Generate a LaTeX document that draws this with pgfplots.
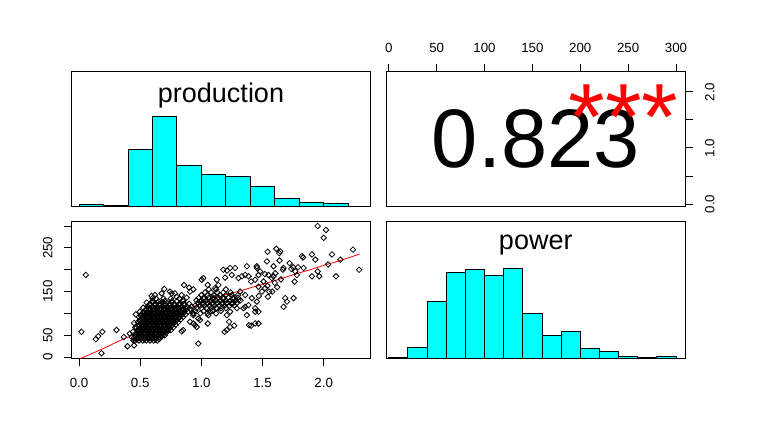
\documentclass[border=0pt]{standalone}
\usepackage{fontspec}
\setmainfont{Liberation Sans}
\usepackage{pgfplots}
\pgfplotsset{compat=1.18}
\definecolor{rcyan}{RGB}{0,255,255}
\definecolor{rred}{RGB}{255,0,0}

\pgfplotsset{
  panel/.style={
    scale only axis, width=299bp, height=135bp,
    axis line style={line width=0.9bp},
    every tick/.style={black, line width=0.9bp},
    tick align=outside, major tick length=7.5bp,
    ticklabel style={font=\fontsize{13.3bp}{15bp}\selectfont, inner sep=0pt},
  },
  nolab/.style={xtick=\empty, ytick=\empty},
}

\begin{document}
\begin{tikzpicture}
\useasboundingbox (0,0) rectangle (757bp,430bp);

% production histogram (top left)
\begin{axis}[panel, nolab, at={(71.5bp,223.3bp)}, anchor=south west,
    xmin=-0.062, xmax=2.383, ymin=0, ymax=2.306]
\addplot[ybar interval, fill=rcyan, draw=black, line width=0.9bp] coordinates {
  (0,0.040)(0.2,0.023)(0.4,0.980)(0.6,1.543)(0.8,0.706)(1.0,0.552)
  (1.2,0.518)(1.4,0.347)(1.6,0.148)(1.8,0.074)(2.0,0.057)(2.2,0.011)(2.4,0)};
\node[font=\fontsize{27bp}{30bp}\selectfont] at (rel axis cs:0.5,0.821) {production};
\end{axis}

% correlation (top right)
\begin{axis}[panel, at={(386.5bp,223.3bp)}, anchor=south west, width=298.5bp,
    xmin=-2.4, xmax=309.4, ymin=-0.048, ymax=2.36,
    xtick={0,50,100,150,200,250,300}, xticklabels={0,50,100,150,200,250,300},
    xtick pos=right, xticklabel pos=right, xticklabel shift=11.7bp,
    xticklabel style={anchor=south},
    ytick={0,0.5,1,1.5,2}, yticklabels={0.0,,1.0,,2.0},
    ytick pos=right, yticklabel pos=right, yticklabel shift=12.5bp,
    yticklabel style={rotate=90, anchor=north}]
\node[font=\fontsize{83bp}{90bp}\selectfont] at (rel axis cs:0.5,0.5) {0.823};
\node[font=\fontsize{94bp}{100bp}\selectfont, text=rred, anchor=north, inner sep=0pt]
  at (rel axis cs:0.794,0.901) {***};
\end{axis}

% scatter (bottom left)
\begin{axis}[panel, at={(71.5bp,71.8bp)}, anchor=south west, height=136.3bp,
    xmin=-0.062, xmax=2.383, ymin=-2.4, ymax=309.4,
    xtick={0,0.5,1,1.5,2}, xticklabels={0.0,0.5,1.0,1.5,2.0},
    xtick pos=left, xticklabel shift=12bp,
    ytick={0,50,100,150,200,250,300}, yticklabels={0,50,,150,,250,},
    ytick pos=left, yticklabel shift=11.2bp,
    yticklabel style={rotate=90, anchor=south}]
\addplot[only marks, mark=square, mark size=1.95bp,
    mark options={rotate=45, line width=0.8bp, draw=black, fill=none}] coordinates {
  % sparse points
  (0.019,58)(0.055,188)(0.137,41)(0.156,48)(0.19,58)(0.183,9)(0.306,62)(0.366,46)
  (0.396,25)(0.45,27)(0.975,31)(0.839,59)(0.697,156)(0.858,165)(1.052,77)(1.208,62)
  (1.227,81)(1.268,72)(1.372,96)(1.407,72)(1.44,104)(1.467,77)(1.372,208)(1.453,208)
  (1.541,241)(1.612,248)(1.645,242)(1.639,221)(1.59,208)(1.604,192)(1.667,200)
  (1.672,115)(1.686,135)(1.7,127)(1.754,135)(1.762,173)(1.721,215)(1.735,202)
  (1.781,188)(1.79,206)(1.831,228)(1.904,235)(1.932,223)(1.904,185)(1.951,196)
  (1.964,185)(1.951,300)(2.019,291)(2.0,273)(2.068,235)(2.036,212)(2.101,185)
  (2.137,223)(2.24,246)(2.29,200)
  (0.936,100)(0.936,77)(0.962,69)(0.989,85)(0.85,62)(1.003,177)(1.016,181)(0.934,155)
  (0.784,146)(0.743,150)
  (1.18,200)(1.21,198)(1.235,204)(1.276,204)(1.249,188)(1.194,182)(1.139,165)
  (1.126,177)(1.112,158)(1.052,165)
  (1.303,181)(1.331,185)(1.358,188)(1.385,185)(1.407,173)(1.44,177)(1.467,188)(1.467,161)
  (1.317,150)(1.358,142)(1.413,135)(1.454,127)(1.44,112)(1.467,104)(1.303,131)
  (1.385,119)(1.344,112)
  (1.057,96)(1.235,69)(1.19,58)(1.44,77)(1.39,73)
  (1.637,238)(1.536,219)(1.672,204)(1.75,206)(1.768,196)(1.823,231)(1.836,204)
  (1.454,204)(1.48,196)(1.549,188)(1.59,185)(1.52,190)(1.577,181)(1.508,173)
  (1.522,158)(1.54,163)(1.555,150)(1.495,150)(1.544,138)(1.47,140)(1.6,170)
  (1.62,160)(1.65,178)(1.58,150)
  (0.757,146)(0.798,138)(0.839,142)(0.88,136)(0.907,150)(0.852,131)(0.9,159)
  (0.6,135)(0.62,142)(0.675,146)(0.593,140)(0.552,125)(0.525,113)(0.497,104)(0.464,98)
  (0.934,96)(0.907,81)(0.948,73)(0.975,88)(1.071,104)(1.126,112)(1.208,96)(1.235,104)
  (1.29,112)(1.358,115)
  (0.415,54)(0.43,46)(0.44,58)(0.445,38)(0.46,68)(0.45,78)
  % dense core
  (0.46,38)(0.49,38)(0.52,38)(0.55,38)(0.58,38)(0.61,38)(0.64,38)
  (0.45,44)(0.48,44)(0.51,44)(0.54,44)(0.57,44)(0.60,44)(0.63,44)(0.66,44)
  (0.46,50)(0.49,50)(0.52,50)(0.55,50)(0.58,50)(0.61,50)(0.64,50)(0.67,50)(0.70,50)
  (0.47,56)(0.50,56)(0.53,56)(0.56,56)(0.59,56)(0.62,56)(0.65,56)(0.68,56)(0.71,56)
  (0.48,62)(0.51,62)(0.54,62)(0.57,62)(0.60,62)(0.63,62)(0.66,62)(0.69,62)(0.72,62)(0.75,62)
  (0.47,68)(0.50,68)(0.53,68)(0.56,68)(0.59,68)(0.62,68)(0.65,68)(0.68,68)(0.71,68)(0.74,68)(0.77,68)
  (0.49,74)(0.52,74)(0.55,74)(0.58,74)(0.61,74)(0.64,74)(0.67,74)(0.70,74)(0.73,74)(0.76,74)(0.79,74)
  (0.48,80)(0.51,80)(0.54,80)(0.57,80)(0.60,80)(0.63,80)(0.66,80)(0.69,80)(0.72,80)(0.75,80)(0.78,80)(0.81,80)
  (0.50,86)(0.53,86)(0.56,86)(0.59,86)(0.62,86)(0.65,86)(0.68,86)(0.71,86)(0.74,86)(0.77,86)(0.80,86)(0.83,86)
  (0.49,92)(0.52,92)(0.55,92)(0.58,92)(0.61,92)(0.64,92)(0.67,92)(0.70,92)(0.73,92)(0.76,92)(0.79,92)(0.82,92)(0.85,92)
  (0.51,98)(0.54,98)(0.57,98)(0.60,98)(0.63,98)(0.66,98)(0.69,98)(0.72,98)(0.75,98)(0.78,98)(0.81,98)(0.84,98)(0.87,98)
  (0.53,104)(0.56,104)(0.59,104)(0.62,104)(0.65,104)(0.68,104)(0.71,104)(0.74,104)(0.77,104)(0.80,104)(0.83,104)(0.86,104)(0.89,104)
  (0.55,110)(0.58,110)(0.61,110)(0.64,110)(0.67,110)(0.70,110)(0.73,110)(0.76,110)(0.79,110)(0.82,110)(0.85,110)(0.88,110)(0.91,110)
  (0.56,116)(0.60,116)(0.64,116)(0.68,116)(0.72,116)(0.76,116)(0.80,116)(0.84,116)(0.88,116)(0.92,116)
  (0.58,122)(0.62,122)(0.66,122)(0.70,122)(0.74,122)(0.78,122)(0.82,122)(0.86,122)(0.90,122)
  (0.60,128)(0.65,128)(0.70,128)(0.76,128)(0.80,128)(0.85,128)
  (0.63,134)(0.69,134)(0.75,134)(0.82,134)
  % core, in-between rows
  (0.475,41)(0.505,41)(0.535,41)(0.565,41)(0.595,41)(0.625,41)(0.655,41)
  (0.465,47)(0.495,47)(0.525,47)(0.555,47)(0.585,47)(0.615,47)(0.645,47)(0.675,47)
  (0.475,53)(0.505,53)(0.535,53)(0.565,53)(0.595,53)(0.625,53)(0.655,53)(0.685,53)
  (0.485,59)(0.515,59)(0.545,59)(0.575,59)(0.605,59)(0.635,59)(0.665,59)(0.695,59)(0.725,59)
  (0.495,65)(0.525,65)(0.555,65)(0.585,65)(0.615,65)(0.645,65)(0.675,65)(0.705,65)(0.735,65)
  (0.485,71)(0.515,71)(0.545,71)(0.575,71)(0.605,71)(0.635,71)(0.665,71)(0.695,71)(0.725,71)(0.755,71)
  (0.505,77)(0.535,77)(0.565,77)(0.595,77)(0.625,77)(0.655,77)(0.685,77)(0.715,77)(0.745,77)(0.775,77)
  (0.495,83)(0.525,83)(0.555,83)(0.585,83)(0.615,83)(0.645,83)(0.675,83)(0.705,83)(0.735,83)(0.765,83)(0.795,83)
  (0.515,89)(0.545,89)(0.575,89)(0.605,89)(0.635,89)(0.665,89)(0.695,89)(0.725,89)(0.755,89)(0.785,89)(0.815,89)
  (0.505,95)(0.535,95)(0.565,95)(0.595,95)(0.625,95)(0.655,95)(0.685,95)(0.715,95)(0.745,95)(0.775,95)(0.805,95)(0.835,95)
  (0.525,101)(0.555,101)(0.585,101)(0.615,101)(0.645,101)(0.675,101)(0.705,101)(0.735,101)(0.765,101)(0.795,101)(0.825,101)(0.855,101)
  (0.545,107)(0.575,107)(0.605,107)(0.635,107)(0.665,107)(0.695,107)(0.725,107)(0.755,107)(0.785,107)(0.815,107)(0.845,107)
  (0.575,113)(0.605,113)(0.635,113)(0.665,113)(0.695,113)(0.725,113)(0.755,113)(0.785,113)(0.815,113)
  (0.58,119)(0.62,119)(0.66,119)(0.70,119)(0.74,119)(0.78,119)(0.82,119)(0.86,119)
  (0.60,125)(0.64,125)(0.68,125)(0.72,125)(0.76,125)
  % shelf
  (0.93,100)(0.99,100)(1.05,100)(1.12,100)
  (0.95,106)(1.02,106)(1.09,106)(1.16,106)
  (0.96,112)(1.00,112)(1.04,112)(1.08,112)(1.12,112)(1.16,112)(1.20,112)
  (0.95,118)(0.99,118)(1.03,118)(1.07,118)(1.11,118)(1.15,118)(1.19,118)(1.23,118)(1.27,118)
  (0.97,124)(1.01,124)(1.05,124)(1.09,124)(1.13,124)(1.17,124)(1.21,124)(1.25,124)(1.29,124)
  (0.96,130)(1.00,130)(1.04,130)(1.08,130)(1.12,130)(1.16,130)(1.20,130)(1.24,130)(1.28,130)(1.32,130)
  (0.98,136)(1.02,136)(1.06,136)(1.10,136)(1.14,136)(1.18,136)(1.22,136)(1.26,136)(1.30,136)
  (1.00,142)(1.05,142)(1.10,142)(1.15,142)(1.20,142)(1.25,142)(1.30,142)
  (1.03,148)(1.08,148)(1.13,148)(1.18,148)(1.24,148)
  (1.06,155)(1.12,155)(1.20,155)
  (1.01,121)(1.09,121)(1.17,121)(1.25,121)
  (0.99,127)(1.07,127)(1.15,127)(1.23,127)
  (1.02,133)(1.10,133)(1.18,133)(1.26,133)
};
\addplot[rred, line width=0.8bp] coordinates {
  (0.014,-3)(0.2,20)(0.35,40)(0.42,48)(0.5,58)(0.6,73)(0.66,85)(0.72,92)(0.8,100)
  (0.87,108)(1.0,123)(1.07,130)(1.2,143)(1.3,150)(1.44,162)(1.48,165)(1.6,175)
  (1.7,184)(1.85,197)(1.89,200)(2.0,210)(2.1,218)(2.2,227)(2.295,236)};
\end{axis}

% power histogram (bottom right)
\begin{axis}[panel, nolab, at={(386.5bp,71.8bp)}, anchor=south west,
    width=298.5bp, height=136.3bp,
    xmin=-2.4, xmax=309.4, ymin=0, ymax=0.01295]
\addplot[ybar interval, fill=rcyan, draw=black, line width=0.9bp] coordinates {
  (0,0.00006)(20,0.00098)(40,0.00537)(60,0.00813)(80,0.00841)(100,0.00784)
  (120,0.00851)(140,0.00422)(160,0.00213)(180,0.00251)(200,0.00089)(220,0.00060)
  (240,0.00013)(260,0.00006)(280,0.00016)(300,0)};
\node[font=\fontsize{27bp}{30bp}\selectfont] at (rel axis cs:0.5,0.833) {power};
\end{axis}
\end{tikzpicture}
\end{document}
